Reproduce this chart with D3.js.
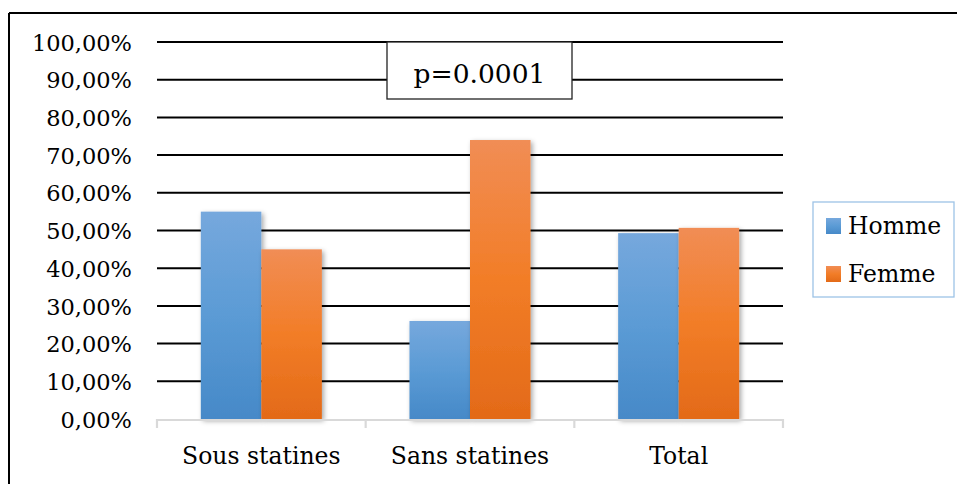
<!DOCTYPE html>
<html>
<head>
<meta charset="utf-8">
<script src="https://cdn.jsdelivr.net/npm/d3@7"></script>
<style>
  html, body { margin: 0; padding: 0; background: #fff; }
  svg { display: block; }
  text { font-family: "DejaVu Serif", "Liberation Serif", serif; fill: #000; }
</style>
</head>
<body>
<svg id="chart" width="957" height="484"></svg>
<script>
// Répartition par sexe selon la prise de statines
const categories = ["Sous statines", "Sans statines", "Total"];
const seriesNames = ["Homme", "Femme"];
const homme = [55.0, 26.0, 49.3];
const femme = [45.0, 74.0, 50.7];
const yTicks = [0, 10, 20, 30, 40, 50, 60, 70, 80, 90, 100];
const pLabel = "p=0.0001";

const svg = d3.select("#chart");
const W = 957, H = 484;
const plot = { left: 157, right: 783, top: 42, bottom: 419 };

const rows = categories.map((c, i) => ({ cat: c, Homme: homme[i], Femme: femme[i] }));

const x0 = d3.scaleBand().domain(categories).range([plot.left, plot.right]).padding(0);
const x1 = d3.scaleBand().domain(seriesNames).range([0, x0.bandwidth()])
  .paddingInner(0).paddingOuter(0.724);
const y = d3.scaleLinear().domain([0, 100]).range([plot.bottom, plot.top]);

const fmt = v => d3.format(".2f")(v).replace(".", ",") + "%";

// Gradients and soft shadow
const defs = svg.append("defs");
const grads = {
  Homme: ["#76a8dd", "#5b9bd5", "#4689c8"],
  Femme: ["#f18d55", "#f27d27", "#e36a18"]
};
Object.entries(grads).forEach(([k, cols]) => {
  const g = defs.append("linearGradient").attr("id", "grad-" + k)
    .attr("x1", 0).attr("y1", 0).attr("x2", 0).attr("y2", 1);
  g.append("stop").attr("offset", "0%").attr("stop-color", cols[0]);
  g.append("stop").attr("offset", "50%").attr("stop-color", cols[1]);
  g.append("stop").attr("offset", "100%").attr("stop-color", cols[2]);
});
const f = defs.append("filter").attr("id", "shadow")
  .attr("x", "-20%").attr("y", "-10%").attr("width", "150%").attr("height", "130%");
f.append("feDropShadow").attr("dx", 2).attr("dy", 2).attr("stdDeviation", 2.5)
  .attr("flood-color", "#000").attr("flood-opacity", 0.35);

// Outer frame (top and left edges)
svg.append("line").attr("x1", 9).attr("x2", W).attr("y1", 13).attr("y2", 13)
  .attr("stroke", "#000").attr("stroke-width", 2);
svg.append("line").attr("x1", 9).attr("x2", 9).attr("y1", 13).attr("y2", H)
  .attr("stroke", "#000").attr("stroke-width", 2);

// Horizontal gridlines
svg.append("g").selectAll("line").data(yTicks.filter(t => t > 0)).join("line")
  .attr("x1", plot.left).attr("x2", plot.right)
  .attr("y1", d => y(d)).attr("y2", d => y(d))
  .attr("stroke", "#000").attr("stroke-width", 2);

// Y axis labels
const yAxis = d3.axisLeft(y).tickValues(yTicks).tickFormat(fmt).tickSize(0).tickPadding(0);
const gy = svg.append("g").attr("transform", `translate(${plot.left - 25},0)`).call(yAxis);
gy.select(".domain").remove();
gy.selectAll("text").style("font-family", "DejaVu Serif").style("font-size", "22.5px")
  .attr("dy", "0.36em");

// Bars
const groups = svg.append("g").selectAll("g").data(rows).join("g")
  .attr("transform", d => `translate(${x0(d.cat)},0)`);
groups.selectAll("rect").data(d => seriesNames.map(s => ({ s, v: d[s] }))).join("rect")
  .attr("x", d => x1(d.s))
  .attr("width", x1.bandwidth())
  .attr("y", d => y(d.v))
  .attr("height", d => y(0) - y(d.v))
  .attr("fill", d => `url(#grad-${d.s})`)
  .attr("filter", "url(#shadow)");

// X axis: light grey baseline with category separators
const xAxis = d3.axisBottom(x0).tickSize(0).tickPadding(0);
const gx = svg.append("g").attr("transform", `translate(0,${plot.bottom + 1})`).call(xAxis);
gx.select(".domain").attr("stroke", "#d9d9d9").attr("stroke-width", 2.2)
  .attr("d", `M${plot.left},8V0H${plot.right}V8`);
gx.selectAll(".tick text").style("font-family", "DejaVu Serif").style("font-size", "23.5px")
  .attr("y", 44).attr("dy", 0);
const seps = [x0(categories[1]), x0(categories[2])];
gx.append("g").selectAll("line").data(seps).join("line")
  .attr("x1", d => d).attr("x2", d => d).attr("y1", 0).attr("y2", 8)
  .attr("stroke", "#d9d9d9").attr("stroke-width", 2.2);

// p-value box
const pb = svg.append("g");
pb.append("rect").attr("x", 387).attr("y", 42).attr("width", 185).attr("height", 57)
  .attr("fill", "#fff").attr("stroke", "#222").attr("stroke-width", 1.3);
pb.append("text").attr("x", 479.5).attr("y", 83).attr("text-anchor", "middle")
  .style("font-size", "26.5px").text(pLabel);

// Legend
const lg = svg.append("g");
lg.append("rect").attr("x", 813).attr("y", 202).attr("width", 141).attr("height", 95)
  .attr("fill", "#fff").attr("stroke", "#9dc3e6").attr("stroke-width", 1.3);
const li = lg.selectAll("g").data(seriesNames).join("g")
  .attr("transform", (d, i) => `translate(826,${218 + i * 48})`);
li.append("rect").attr("width", 15).attr("height", 16).attr("fill", d => `url(#grad-${d})`);
li.append("text").attr("x", 22).attr("y", 16).style("font-size", "23.5px").text(d => d);
</script>
</body>
</html>
